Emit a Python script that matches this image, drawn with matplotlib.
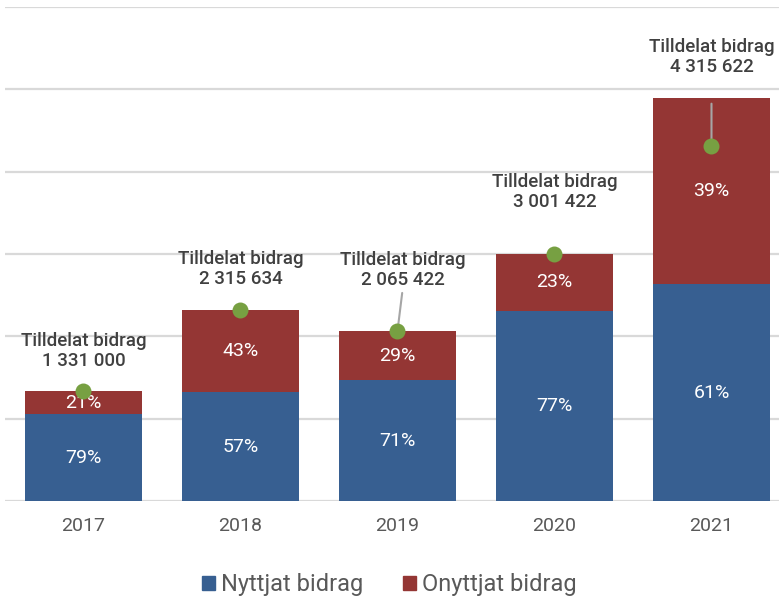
import matplotlib
matplotlib.use("Agg")
import matplotlib.pyplot as plt
from matplotlib.patches import Patch

years = ["2017", "2018", "2019", "2020", "2021"]
nyttjat = [1051490, 1319911, 1466450, 2311095, 2632000]
onyttjat = [279510, 995723, 598972, 690327, 2259000]
tilldelat = [1331000, 2315634, 2065422, 3001422, 4315622]
tilldelat_labels = ["1 331 000", "2 315 634", "2 065 422", "3 001 422", "4 315 622"]
pct_nyttjat = ["79%", "57%", "71%", "77%", "61%"]
pct_onyttjat = ["21%", "43%", "29%", "23%", "39%"]

# layout (pixel offsets of total labels relative to dots)
label_offsets = [(0, 40), (0, 41), (5, 61), (0, 62), (0, 89)]
leader_offsets = [None, None, (4.7, 38), None, (0, 42)]

BLUE = "#375F91"
RED = "#943634"
GREEN = "#77A042"
GRID = "#D9D9D9"

plt.rcParams['font.family'] = ['Roboto', 'DejaVu Sans']

fig = plt.figure(figsize=(7.79, 5.99), dpi=100)
W, H = 779, 599
ax = fig.add_axes([5 / W, (H - 501) / H, 774 / W, 494 / H])

x = list(range(len(years)))
ax.bar(x, nyttjat, width=0.74, color=BLUE, zorder=2)
ax.bar(x, onyttjat, width=0.74, bottom=nyttjat, color=RED, zorder=2)

ax.set_xlim(-0.5, 4.43)
ax.set_ylim(0, 6e6)
ax.set_yticks([i * 1e6 for i in range(7)])
ax.yaxis.grid(True, color=GRID, linewidth=1.6, zorder=0)
ax.set_axisbelow(True)
for s in ax.spines.values():
    s.set_visible(False)
ax.tick_params(axis='y', left=False, labelleft=False)
ax.tick_params(axis='x', bottom=False, pad=8)
ax.set_xticks(x)
ax.set_xticklabels(years, fontsize=14, color="#595959")

for i in x:
    ax.text(i, nyttjat[i] / 2, pct_nyttjat[i], ha='center', va='center',
            color='white', fontsize=14, fontweight='normal', zorder=4)
    ax.text(i, nyttjat[i] + onyttjat[i] / 2, pct_onyttjat[i], ha='center', va='center',
            color='white', fontsize=14, fontweight='normal', zorder=4)
    if leader_offsets[i] is not None:
        ax.annotate('', xy=(i, tilldelat[i]), xytext=leader_offsets[i],
                    textcoords='offset pixels',
                    arrowprops=dict(arrowstyle='-', color='#A6A6A6', lw=1.5,
                                    shrinkA=0, shrinkB=0), zorder=5)
    ax.plot(i, tilldelat[i], 'o', color=GREEN, markersize=11.5, zorder=6,
            markeredgewidth=0)
    ax.annotate("Tilldelat bidrag\n" + tilldelat_labels[i], xy=(i, tilldelat[i]),
                xytext=label_offsets[i], textcoords='offset pixels',
                ha='center', va='center', fontsize=13.5, fontweight='medium',
                color='#404040', linespacing=1.15, zorder=7)

handles = [Patch(color=BLUE, label="Nyttjat bidrag"),
           Patch(color=RED, label="Onyttjat bidrag")]
fig.legend(handles=handles, loc='center', bbox_to_anchor=(0.5, 1 - 585 / H),
           ncol=2, frameon=False, fontsize=17, labelcolor='#595959',
           handlelength=0.55, handleheight=0.55, handletextpad=0.25, columnspacing=1.7)

fig.savefig("out.png", dpi=100)
